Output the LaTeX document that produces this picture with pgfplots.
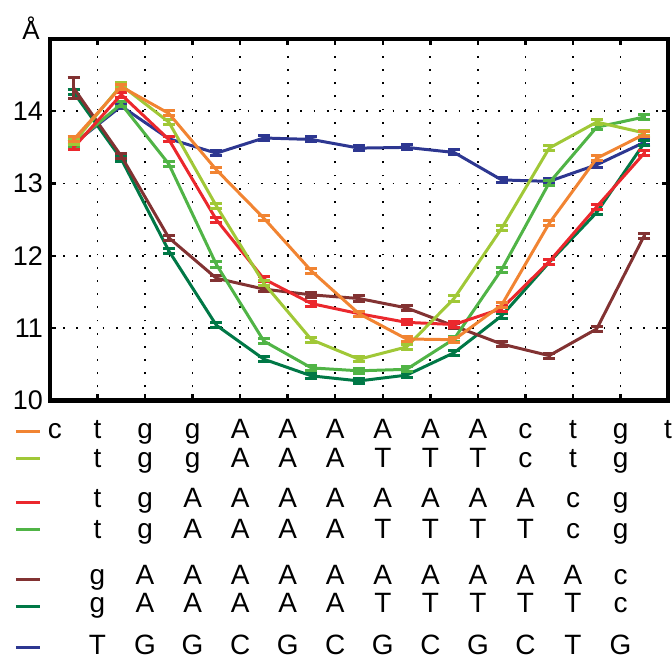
\documentclass[border=0pt]{standalone}
\usepackage{fontspec}
\setmainfont{Liberation Sans}
\usepackage{pgfplots}
\pgfplotsset{compat=1.18}
\usepackage{pgfplotstable}
\usetikzlibrary{calc}

\definecolor{cblue}{RGB}{45,55,145}
\definecolor{corange}{RGB}{241,132,50}
\definecolor{clime}{RGB}{160,200,55}
\definecolor{cred}{RGB}{235,40,45}
\definecolor{cgreen}{RGB}{80,180,70}
\definecolor{cdgreen}{RGB}{0,120,70}
\definecolor{cbrown}{RGB}{130,50,50}

% helical parameter per base step
\pgfplotstableread{
x    blue  orange lime  red   green dgreen brown be
0.5  13.55 13.61  13.57 13.50 13.55 14.26  14.32 0.15
1.5  14.07 14.34  14.36 14.23 14.10 13.34  13.38 0.035
2.5  13.62 13.97  13.85 13.61 13.27 12.07  12.25 0.035
3.5  13.42 13.19  12.69 12.50 11.88 11.04  11.69 0.035
4.5  13.63 12.52  11.62 11.68 10.82 10.57  11.54 0.035
5.5  13.61 11.79  10.84 11.34 10.45 10.34  11.46 0.035
6.5  13.49 11.20  10.57 11.20 10.41 10.27  11.41 0.035
7.5  13.50 10.85  10.74 11.08 10.43 10.35  11.28 0.035
8.5  13.43 10.84  11.41 11.05 10.85 10.66  11.03 0.035
9.5  13.05 11.32  12.38 11.27 11.81 11.17  10.78 0.035
10.5 13.03 12.45  13.49 11.92 13.01 11.91  10.62 0.035
11.5 13.26 13.35  13.85 12.68 13.78 12.60  10.99 0.035
12.5 13.57 13.68  13.70 13.42 13.92 13.56  12.28 0.035
}\helix

\pgfplotsset{
  eb/.style={error bars/.cd, y dir=both, y fixed=0.035,
    error bar style={line width=1.4pt},
    error mark options={rotate=90, mark size=3pt, line width=1.5pt}},
}

\begin{document}
\begin{tikzpicture}
\begin{axis}[
  scale only axis, width=309.5pt, height=181pt,
  xmin=0, xmax=13, ymin=10, ymax=15,
  xtick={1,...,12}, xticklabels={},
  ytick={10,...,14},
  tick align=inside, tick pos=both,
  major tick length=3pt,
  every tick/.style={black, line width=1.2pt},
  axis line style={line width=2.2pt},
  grid=major,
  major grid style={black, line width=0.9pt, dash pattern=on 0.9pt off 5.7pt},
  yticklabel style={font=\fontsize{13.5}{15}\selectfont},
  /pgf/number format/assume math mode=true,
  clip=false,
]
\addplot[cblue, line width=1.5pt, mark=none, eb] table[x=x,y=blue]{\helix};
\addplot[cdgreen, line width=1.5pt, mark=none, eb] table[x=x,y=dgreen]{\helix};
\addplot[cbrown, line width=1.5pt, mark=none,
  error bars/.cd, y dir=both, y explicit,
  error bar style={line width=1.4pt},
  error mark options={rotate=90, mark size=3pt, line width=1.5pt}]
  table[x=x,y=brown,y error=be]{\helix};
\addplot[cgreen, line width=1.5pt, mark=none, eb] table[x=x,y=green]{\helix};
\addplot[cred, line width=1.5pt, mark=none, eb] table[x=x,y=red]{\helix};
\addplot[clime, line width=1.5pt, mark=none, eb] table[x=x,y=lime]{\helix};
\addplot[corange, line width=1.5pt, mark=none, eb] table[x=x,y=orange]{\helix};
\end{axis}

% sequences under the axis, in pixel units of the reference
\begin{scope}[shift={($(current axis.south west)+(-25pt,200.5pt)$)}, x=0.5pt, y=-0.5pt,
  every node/.style={anchor=base, inner sep=0pt, font=\fontsize{14}{16}\selectfont}]
\path (0,0) rectangle (672,660);
\node[font=\fontsize{13}{15}\selectfont] at (31,40) {Å};

\draw[corange, line width=1.5pt] (16,432) -- (40,432);
\draw[clime, line width=1.5pt] (16,459) -- (40,459);
\draw[cred, line width=1.5pt] (16,503) -- (40,503);
\draw[cgreen, line width=1.5pt] (16,530) -- (40,530);
\draw[cbrown, line width=1.5pt] (16,580) -- (40,580);
\draw[cdgreen, line width=1.5pt] (16,607) -- (40,607);
\draw[cblue, line width=1.5pt] (16,648) -- (40,648);

\node at (55,439.5) {c};
\foreach \s [count=\i from 1] in {t,g,g,A,A,A,A,A,A,c,t,g,t}
  \node at ({50+47.62*\i},439.5) {\s};
\foreach \s [count=\i from 1] in {t,g,g,A,A,A,T,T,T,c,t,g}
  \node at ({50+47.62*\i},468) {\s};
\foreach \s [count=\i from 1] in {t,g,A,A,A,A,A,A,A,A,c,g}
  \node at ({50+47.62*\i},508.5) {\s};
\foreach \s [count=\i from 1] in {t,g,A,A,A,A,T,T,T,T,c,g}
  \node at ({50+47.62*\i},539) {\s};
\foreach \s [count=\i from 1] in {g,A,A,A,A,A,A,A,A,A,A,c}
  \node at ({50+47.62*\i},585) {\s};
\foreach \s [count=\i from 1] in {g,A,A,A,A,A,T,T,T,T,T,c}
  \node at ({50+47.62*\i},613) {\s};
\foreach \s [count=\i from 1] in {T,G,G,C,G,C,G,C,G,C,T,G}
  \node at ({50+47.62*\i},655) {\s};
\end{scope}
\end{tikzpicture}
\end{document}
